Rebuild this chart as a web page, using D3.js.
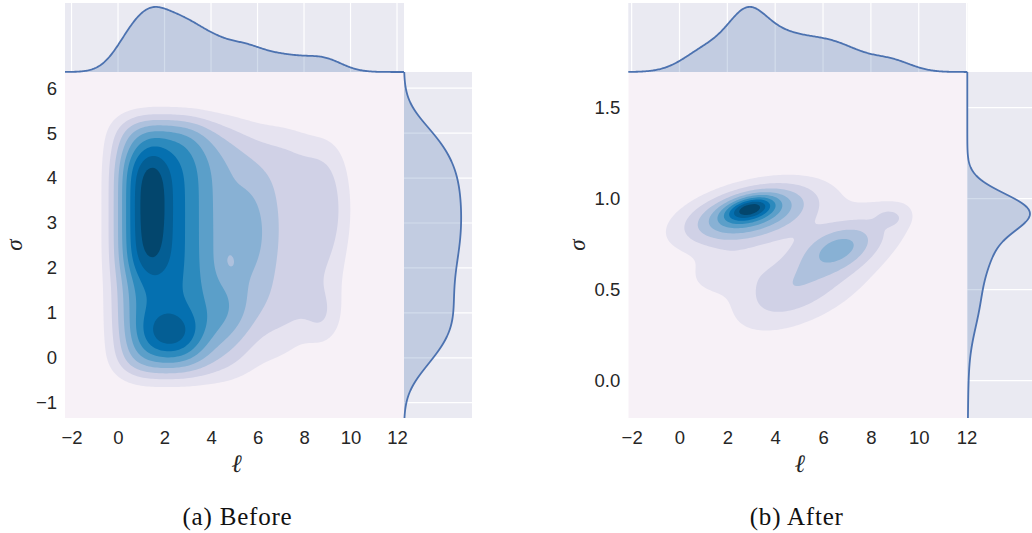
<!DOCTYPE html>
<html>
<head>
<meta charset="utf-8">
<script src="https://cdn.jsdelivr.net/npm/d3@7"></script>
<style>
  body { margin: 0; background: #ffffff; }
  svg { display: block; }
  .tick text { font-family: "Liberation Sans", Arial, sans-serif; fill: #262626; }
</style>
</head>
<body>
<svg id="chart" width="1032" height="533"></svg>
<script>
// ---- tick labels -------------------------------------------------------
const ellTicks = [-2, 0, 2, 4, 6, 8, 10, 12];
const sigmaTicksBefore = [-1, 0, 1, 2, 3, 4, 5, 6];
const sigmaTicksAfter = [0.0, 0.5, 1.0, 1.5];
const captions = ["(a) Before", "(b) After"];

// ---- joint density of (ℓ, σ), before ----------------------------------
// Each component is a smoothed block (half-width > 0) or a Gaussian
// (half-width 0) in each coordinate: centre, half-width, spread; weight.
const beforeL   = [1.10, 1.50, 2.30, 1.875, 2.725, 3.975, 4.825, 9.00, 8.80, 5.70, 4.70, 4.80];
const beforeHL  = [0.90, 0.00, 0.00, 1.725, 2.575, 3.825, 4.675, 0.00, 0.00, 0.00, 0.00, 0.00];
const beforeSdL = [0.60, 0.45, 1.00, 0.75, 0.75, 0.70, 0.65, 0.80, 0.55, 0.60, 0.80, 0.30];
const beforeS   = [3.225, 3.40, 0.50, 2.50, 2.40, 2.45, 2.70, 3.30, 0.85, 2.80, 0.90, 2.15];
const beforeHS  = [1.275, 0.00, 0.00, 2.80, 2.90, 2.80, 2.10, 0.00, 0.00, 0.00, 0.00, 0.00];
const beforeSdS = [0.35, 0.80, 0.38, 0.28, 0.32, 0.38, 0.45, 0.90, 0.45, 0.75, 0.60, 0.25];
const beforeRho = [0, 0, 0, 0, 0, 0, 0, 0, 0, 0, 0, 0];
const beforeW   = [0.22, 0.08, 0.22, 0.27, 0.12, 0.09, 0.16, 0.11, 0.07, 0.12, 0.10, -0.05];

// ---- joint density of (ℓ, σ), after -----------------------------------
const afterL   = [2.93, 2.90, 4.80, 6.60, 6.70, 8.80, 4.00, 1.80, 5.00, 5.80];
const afterHL  = [0, 0, 0, 0, 0, 0, 0, 0, 0, 0];
const afterSdL = [0.65, 1.80, 3.00, 1.00, 2.30, 0.35, 1.30, 0.95, 3.00, 1.80];
const afterS   = [0.947, 0.92, 0.75, 0.73, 0.69, 0.895, 0.50, 0.60, 0.20, 0.45];
const afterHS  = [0, 0, 0, 0, 0, 0, 0, 0, 0, 0];
const afterSdS = [0.045, 0.11, 0.20, 0.085, 0.22, 0.03, 0.12, 0.08, 0.25, 0.12];
const afterRho = [0.40, 0.45, 0.30, 0.30, 0.80, 0.00, 0.30, 0.30, 0.00, 0.60];
const afterW   = [0.42, 0.55, 0.10, 0.20, 0.17, 0.12, 0.10, 0.11, 0.035, 0.06];

// ---- 1-D density estimates shown on the margins of the "after" plot -----
const afterEllMargMu = [1.20, 2.80, 3.80, 6.40, 8.90];
const afterEllMargSd = [1.00, 0.75, 1.30, 1.30, 0.85];
const afterEllMargW  = [0.34, 0.50, 0.55, 0.42, 0.146];
const afterSigmaMargMu = [0.935, 0.75, 0.45, 0.10];
const afterSigmaMargSd = [0.10, 0.14, 0.17, 0.30];
const afterSigmaMargW  = [0.80, 0.32, 0.17, 0.016];

// ---- helpers -------------------------------------------------------------
function erf(x) {
  const t = 1 / (1 + 0.3275911 * Math.abs(x));
  const y = 1 - (((((1.061405429 * t - 1.453152027) * t) + 1.421413741) * t - 0.284496736) * t + 0.254829592) * t * Math.exp(-x * x);
  return x >= 0 ? y : -y;
}
const Phi = z => 0.5 * (1 + erf(z / Math.SQRT2));

function components(L, HL, SL, S, HS, SS, R, Wt) {
  return L.map((l, i) => ({ l, hl: HL[i], sl: SL[i], s: S[i], hs: HS[i], ss: SS[i], r: R[i], w: Wt[i] }));
}
// profile of one coordinate: smoothed block or Gaussian
function profile(x, mu, h, sd) {
  if (h > 0) return Phi((x - mu + h) / sd) - Phi((x - mu - h) / sd);
  const z = (x - mu) / sd;
  return Math.exp(-0.5 * z * z) / sd;
}
// integral of a profile over its coordinate (Gaussians are per unit spread)
function mass(h, sd) { return h > 0 ? 2 * h : Math.sqrt(2 * Math.PI); }

function density(comps, l, s) {
  let v = 0;
  for (const c of comps) {
    if (c.r !== 0) {
      const zl = (l - c.l) / c.sl, zs = (s - c.s) / c.ss;
      const q = (zl * zl - 2 * c.r * zl * zs + zs * zs) / (1 - c.r * c.r);
      v += c.w * Math.exp(-0.5 * q);
    } else {
      const pl = profile(l, c.l, c.hl, c.sl) * (c.hl > 0 ? 1 : c.sl);
      const ps = profile(s, c.s, c.hs, c.ss) * (c.hs > 0 ? 1 : c.ss);
      v += c.w * pl * ps;
    }
  }
  return v;
}
// marginal curves of the joint model; "extra" widens the kernel
function marginalEll(comps, l, extra) {
  let v = 0;
  for (const c of comps) {
    const sd = Math.hypot(c.sl, extra);
    const p = profile(l, c.l, c.hl, sd) * (c.hl > 0 ? 1 : c.sl);
    v += c.w * p * mass(c.hs, c.ss) * (c.hs > 0 ? 1 : c.ss) * Math.sqrt(1 - c.r * c.r);
  }
  return v;
}
function marginalSigma(comps, s, extra) {
  let v = 0;
  for (const c of comps) {
    const sd = Math.hypot(c.ss, extra);
    const p = profile(s, c.s, c.hs, sd) * (c.hs > 0 ? 1 : c.ss);
    v += c.w * p * mass(c.hl, c.sl) * (c.hl > 0 ? 1 : c.sl) * Math.sqrt(1 - c.r * c.r);
  }
  return v;
}
// a 1-D Gaussian mixture given as peak heights
function mixture1d(mu, sd, w) {
  return x => d3.sum(mu, (m, i) => w[i] * Math.exp(-0.5 * ((x - m) / sd[i]) ** 2));
}

const svg = d3.select("#chart");
const pubu = d3.piecewise(d3.interpolateRgb, d3.schemePuBu[9]);
const nBands = 10;
const bandColor = k => pubu((k + 0.5) / nBands);
const gridBg = "#eaeaf2";
const lineBlue = "#4c72b0";

function drawPanel(p) {
  const g = svg.append("g");
  const x = d3.scaleLinear().domain(p.xDomain).range([p.x0, p.x1]);
  const y = d3.scaleLinear().domain(p.yDomain).range([p.y1, p.y0]);
  const clipId = "clip-" + p.id;
  svg.append("clipPath").attr("id", clipId)
    .append("rect").attr("x", p.x0).attr("y", p.y0)
    .attr("width", p.x1 - p.x0).attr("height", p.y1 - p.y0);

  // ---- joint density: filled contours ----
  const step = 2;
  const nx = Math.ceil((p.x1 - p.x0) / step) + 2;
  const ny = Math.ceil((p.y1 - p.y0) / step) + 2;
  const vals = new Float64Array(nx * ny);
  for (let j = 0; j < ny; j++) {
    const s = y.invert(p.y0 + j * step);
    for (let i = 0; i < nx; i++) {
      vals[j * nx + i] = Math.max(0, density(p.comps, x.invert(p.x0 + i * step), s));
    }
  }
  const vmax = d3.max(vals);
  const thresholds = d3.range(1, nBands).map(k => k * vmax / nBands);
  const bands = d3.contours().size([nx, ny]).thresholds(thresholds)(vals);
  const path = d3.geoPath(d3.geoIdentity().scale(step).translate([p.x0 - step / 2, p.y0 - step / 2]));

  const joint = g.append("g").attr("clip-path", `url(#${clipId})`);
  joint.append("rect").attr("x", p.x0).attr("y", p.y0)
    .attr("width", p.x1 - p.x0).attr("height", p.y1 - p.y0)
    .attr("fill", bandColor(0));
  joint.selectAll("path.band").data(bands).join("path")
    .attr("class", "band")
    .attr("d", path)
    .attr("fill", (d, k) => bandColor(k + 1));

  // ---- top marginal ----
  const topY0 = p.topMargTop;
  g.append("rect").attr("x", p.x0).attr("y", topY0)
    .attr("width", p.x1 - p.x0).attr("height", p.y0 - topY0).attr("fill", gridBg);
  g.append("g").selectAll("line").data(ellTicks).join("line")
    .attr("x1", d => x(d)).attr("x2", d => x(d))
    .attr("y1", topY0).attr("y2", p.y0)
    .attr("stroke", "#ffffff").attr("stroke-width", 1.2);
  const fEll = p.ellMarg || (l => marginalEll(p.comps, l, p.smoothL));
  const ellPts = d3.range(p.x0, p.x1 + 0.5, 1).map(px => [x.invert(px), Math.max(0, fEll(x.invert(px)))]);
  const mEllMax = d3.max(ellPts, d => d[1]);
  const my = d3.scaleLinear().domain([0, mEllMax * p.topPad]).range([p.y0, topY0]);
  g.append("path").datum(ellPts)
    .attr("d", d3.area().x(d => x(d[0])).y0(p.y0).y1(d => my(d[1])))
    .attr("fill", lineBlue).attr("fill-opacity", 0.25);
  g.append("path").datum(ellPts)
    .attr("d", d3.line().x(d => x(d[0])).y(d => my(d[1])))
    .attr("fill", "none").attr("stroke", lineBlue).attr("stroke-width", 1.8);

  // ---- right marginal ----
  const rx1 = p.x1 + p.rightWidth;
  g.append("rect").attr("x", p.x1).attr("y", p.y0)
    .attr("width", p.rightWidth).attr("height", p.y1 - p.y0).attr("fill", gridBg);
  g.append("g").selectAll("line").data(p.yTicks).join("line")
    .attr("x1", p.x1).attr("x2", rx1)
    .attr("y1", d => y(d)).attr("y2", d => y(d))
    .attr("stroke", "#ffffff").attr("stroke-width", 1.2);
  const fSig = p.sigmaMarg || (s => marginalSigma(p.comps, s, p.smoothS));
  const sigPts = d3.range(p.y0, p.y1 + 0.5, 1).map(py => [y.invert(py), Math.max(0, fSig(y.invert(py)))]);
  const mSigMax = d3.max(sigPts, d => d[1]);
  const mx = d3.scaleLinear().domain([0, mSigMax * p.rightPad]).range([p.x1, rx1]);
  g.append("path").datum(sigPts)
    .attr("d", d3.area().y(d => y(d[0])).x0(p.x1).x1(d => mx(d[1])))
    .attr("fill", lineBlue).attr("fill-opacity", 0.25);
  g.append("path").datum(sigPts)
    .attr("d", d3.line().y(d => y(d[0])).x(d => mx(d[1])))
    .attr("fill", "none").attr("stroke", lineBlue).attr("stroke-width", 1.8);

  // ---- axes ----
  const xAxis = g.append("g").attr("transform", `translate(0,${p.y1})`)
    .call(d3.axisBottom(x).tickValues(ellTicks).tickFormat(d3.format("d")).tickSize(0).tickPadding(13));
  xAxis.select(".domain").remove();
  xAxis.selectAll("text").style("font-size", "18.5px");
  const yAxis = g.append("g").attr("transform", `translate(${p.x0},0)`)
    .call(d3.axisLeft(y).tickValues(p.yTicks).tickFormat(p.yFormat).tickSize(0).tickPadding(8));
  yAxis.select(".domain").remove();
  yAxis.selectAll("text").style("font-size", "18.5px");

  // ---- axis titles and caption ----
  g.append("text")
    .attr("x", (p.x0 + p.x1) / 2 + 2).attr("y", 472)
    .attr("text-anchor", "middle")
    .style("font-family", "'DejaVu Serif', serif").style("font-style", "italic")
    .style("font-size", "25px").style("fill", "#262626")
    .text("ℓ");
  g.append("text")
    .attr("transform", `translate(${p.x0 - 43.5},245) rotate(-90)`)
    .attr("text-anchor", "middle")
    .style("font-family", "'Liberation Serif', serif").style("font-style", "italic")
    .style("font-size", "23px").style("fill", "#262626")
    .text("σ");
  g.append("text")
    .attr("x", p.capX).attr("y", 525)
    .attr("text-anchor", "middle")
    .style("font-family", "'Liberation Serif', serif").style("font-size", "25px")
    .style("letter-spacing", "0.8px").style("fill", "#111")
    .text(p.caption);
}

drawPanel({
  id: "before",
  x0: 65, x1: 404, y0: 72, y1: 418, topMargTop: 3,
  rightWidth: 68, topPad: 1.06, rightPad: 1.19, smoothL: 0.2, smoothS: 0.3,
  xDomain: [-2.28, 12.30], yDomain: [-1.34, 6.36],
  yTicks: sigmaTicksBefore, yFormat: d3.format("d"),
  comps: components(beforeL, beforeHL, beforeSdL, beforeS, beforeHS, beforeSdS, beforeRho, beforeW),
  caption: captions[0], capX: 237.5
});
drawPanel({
  id: "after",
  x0: 628.3, x1: 967.3, y0: 72, y1: 418, topMargTop: 3,
  rightWidth: 68, topPad: 1.06, rightPad: 1.085,
  xDomain: [-2.14, 12.03], yDomain: [-0.205, 1.696],
  yTicks: sigmaTicksAfter, yFormat: d3.format(".1f"),
  comps: components(afterL, afterHL, afterSdL, afterS, afterHS, afterSdS, afterRho, afterW),
  ellMarg: mixture1d(afterEllMargMu, afterEllMargSd, afterEllMargW),
  sigmaMarg: mixture1d(afterSigmaMargMu, afterSigmaMargSd, afterSigmaMargW),
  caption: captions[1], capX: 796.7
});
</script>
</body>
</html>
